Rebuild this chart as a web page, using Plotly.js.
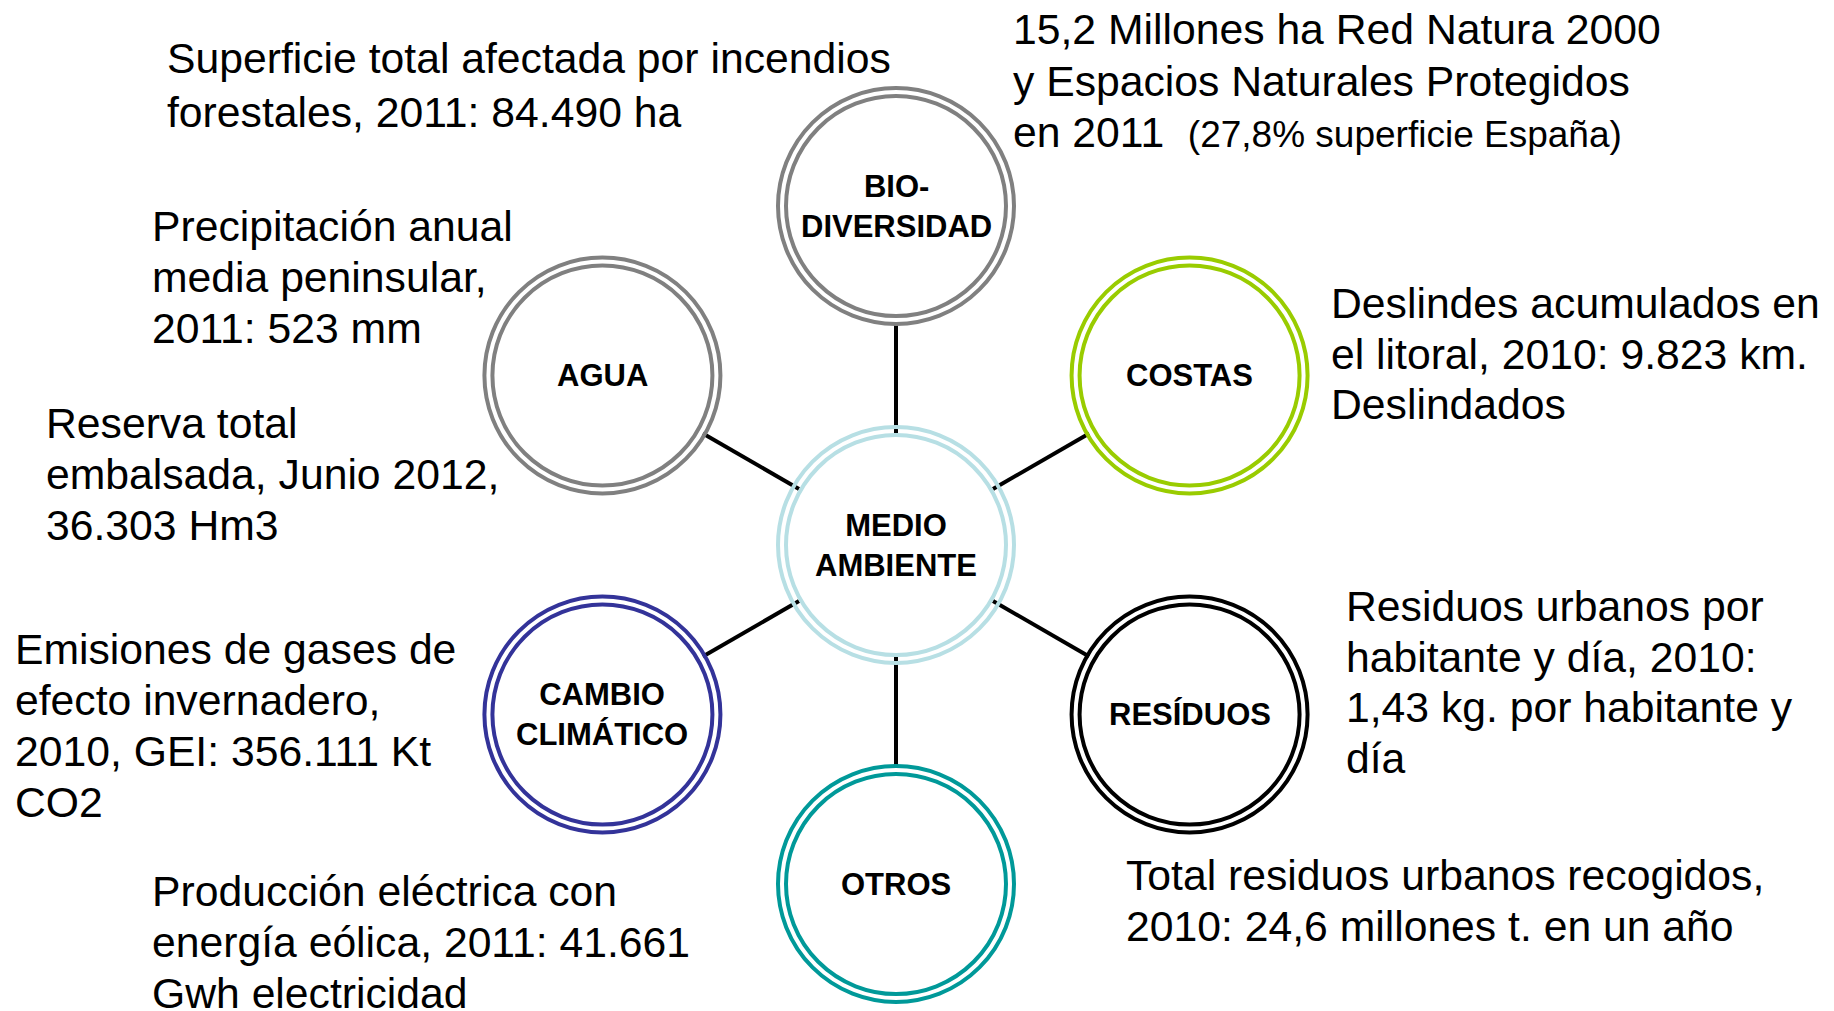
<!DOCTYPE html>
<html>
<head>
<meta charset="utf-8">
<script src="https://cdn.plot.ly/plotly-3.0.1.min.js"></script>
<style>
  html, body { margin: 0; padding: 0; background: #ffffff; }
  #myDiv { width: 1834px; height: 1011px; }
</style>
</head>
<body>
<div id="myDiv"></div>
<script>
// nodes of the diagram
var nodes = ['MEDIO<br>AMBIENTE', 'BIO-<br>DIVERSIDAD', 'COSTAS', 'RESÍDUOS', 'OTROS', 'CAMBIO<br>CLIMÁTICO', 'AGUA'];
var nodeColors = ['#b7dfe4', '#808080', '#99cc00', '#000000', '#009999', '#333399', '#808080'];
var nodeAngles = [null, 90, 30, -30, -90, -150, 150];

// text blocks around the nodes, one entry per line
var notes = [
    ['Superficie total afectada por incendios', 'forestales, 2011: 84.490 ha'],
    ['15,2 Millones ha Red Natura 2000', 'y Espacios Naturales Protegidos',
     'en 2011&nbsp; <span style="font-size:37px">(27,8% superficie España)</span>'],
    ['Precipitación anual', 'media peninsular,', '2011: 523 mm'],
    ['Reserva total', 'embalsada, Junio 2012,', '36.303 Hm3'],
    ['Deslindes acumulados en', 'el litoral, 2010: 9.823 km.', 'Deslindados'],
    ['Residuos urbanos por', 'habitante y día, 2010:', '1,43 kg. por habitante y', 'día'],
    ['Emisiones de gases de', 'efecto invernadero,', '2010, GEI: 356.111 Kt', 'CO2'],
    ['Producción eléctrica con', 'energía eólica, 2011: 41.661', 'Gwh electricidad'],
    ['Total residuos urbanos recogidos,', '2010: 24,6 millones t. en un año']
];
var noteX = [165, 1011, 150, 44, 1329, 1344, 13, 150, 1124];
var noteY = [58, 29, 226, 423, 303, 606, 649, 891, 875];
var notePitch = [54, 51.5, 51, 51, 50.5, 50.7, 51, 51, 51.4];

var cx = 896, cy = 545, dist = 339, rOut = 118, rIn = 110;
var font = 'Liberation Sans, Arial, sans-serif';

var shapes = [];
var annotations = [];
var centers = nodes.map(function (n, i) {
    if (nodeAngles[i] === null) return [cx, cy];
    var a = nodeAngles[i] * Math.PI / 180;
    return [cx + dist * Math.cos(a), cy - dist * Math.sin(a)];
});

// connectors
for (var i = 1; i < nodes.length; i++) {
    var a = nodeAngles[i] * Math.PI / 180;
    shapes.push({
        type: 'line', xref: 'x', yref: 'y',
        x0: cx + 112 * Math.cos(a), y0: cy - 112 * Math.sin(a),
        x1: cx + (dist - 116) * Math.cos(a), y1: cy - (dist - 116) * Math.sin(a),
        line: {color: '#000000', width: 4}
    });
}

// double rings
centers.forEach(function (c, i) {
    [rOut, rIn].forEach(function (r) {
        shapes.push({
            type: 'circle', xref: 'x', yref: 'y',
            x0: c[0] - r, x1: c[0] + r, y0: c[1] - r, y1: c[1] + r,
            line: {color: nodeColors[i], width: 4}
        });
    });
    annotations.push({
        x: c[0], y: c[1], xref: 'x', yref: 'y', showarrow: false,
        text: '<b>' + nodes[i] + '</b>',
        font: {family: font, size: 31, color: '#000000'},
        xanchor: 'center', yanchor: 'middle'
    });
});

notes.forEach(function (lines, i) {
    lines.forEach(function (t, k) {
        annotations.push({
            x: noteX[i], y: noteY[i] + k * notePitch[i], xref: 'x', yref: 'y', showarrow: false,
            text: t, align: 'left',
            font: {family: font, size: 42.7, color: '#000000'},
            xanchor: 'left', yanchor: 'middle'
        });
    });
});

var layout = {
    width: 1834,
    height: 1011,
    margin: {l: 0, r: 0, t: 0, b: 0},
    paper_bgcolor: '#ffffff',
    plot_bgcolor: '#ffffff',
    showlegend: false,
    xaxis: {range: [0, 1834], visible: false, fixedrange: true},
    yaxis: {range: [1011, 0], visible: false, fixedrange: true},
    shapes: shapes,
    annotations: annotations
};

Plotly.newPlot('myDiv', [], layout, {staticPlot: true});
</script>
</body>
</html>
